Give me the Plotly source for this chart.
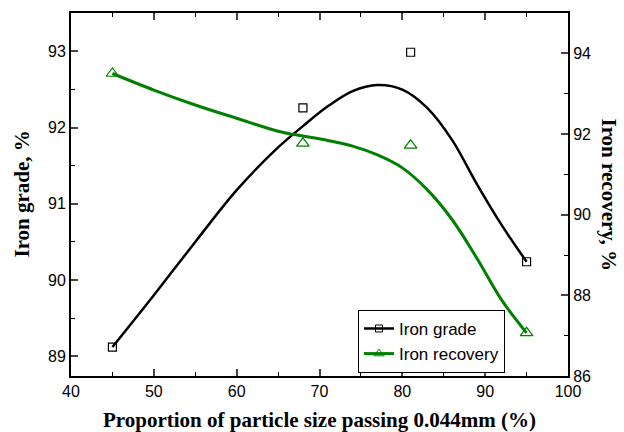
import plotly.graph_objects as go

# Measured data points
x_pts = [45, 68, 81, 95]
grade_pts = [89.12, 92.26, 92.99, 90.24]
recovery_pts = [93.50, 91.77, 91.72, 87.07]

# Fitted curves
grade_curve_x = [45, 50, 55, 60, 65, 68, 71, 74, 77, 80, 83, 86, 89, 92, 95]
grade_curve_y = [89.12, 89.80, 90.50, 91.18, 91.74, 92.02, 92.28, 92.48, 92.56, 92.50, 92.26, 91.84, 91.26, 90.72, 90.24]
recovery_curve_x = [45, 50, 55, 60, 65, 68, 71, 74, 77, 80, 83, 86, 89, 92, 95]
recovery_curve_y = [93.50, 93.09, 92.72, 92.39, 92.07, 91.95, 91.84, 91.70, 91.48, 91.16, 90.62, 89.88, 88.92, 87.88, 87.07]

series_names = ["Iron grade", "Iron recovery"]
x_title = "Proportion of particle size passing 0.044mm (%)"
y_title = "Iron grade, %"
y2_title = "Iron recovery, %"

GREEN = "#008000"
SANS = "Liberation Sans, Arial, sans-serif"
SERIF = "Liberation Serif, Times New Roman, serif"

fig = go.Figure()
fig.add_trace(go.Scatter(x=grade_curve_x, y=grade_curve_y, mode="lines",
                         line=dict(color="black", width=2.5, shape="spline", smoothing=1.0),
                         showlegend=False, hoverinfo="skip"))
fig.add_trace(go.Scatter(x=recovery_curve_x, y=recovery_curve_y, mode="lines", yaxis="y2",
                         line=dict(color=GREEN, width=3, shape="spline", smoothing=1.0),
                         showlegend=False, hoverinfo="skip"))
fig.add_trace(go.Scatter(x=x_pts, y=grade_pts, mode="markers",
                         marker=dict(symbol="square-open", size=8, color="black", line=dict(width=1.2)),
                         showlegend=False))
fig.add_trace(go.Scatter(x=x_pts, y=recovery_pts, mode="markers", yaxis="y2",
                         marker=dict(symbol="triangle-up-open", size=11, color=GREEN, line=dict(width=1.2)),
                         showlegend=False))
# legend entries
fig.add_trace(go.Scatter(x=[None], y=[None], mode="lines+markers", name=series_names[0],
                         line=dict(color="black", width=2.5),
                         marker=dict(symbol="square-open", size=7, color="black")))
fig.add_trace(go.Scatter(x=[None], y=[None], mode="lines+markers", name=series_names[1], yaxis="y2",
                         line=dict(color=GREEN, width=3),
                         marker=dict(symbol="triangle-up-open", size=9, color=GREEN)))

tickfont = dict(family=SANS, size=16, color="black")
fig.update_layout(
    width=624, height=432,
    margin=dict(l=71, r=56, t=13, b=56),
    paper_bgcolor="white", plot_bgcolor="white",
    xaxis=dict(range=[40, 100], dtick=10, tick0=40, ticks="inside", ticklen=7, tickwidth=1.5,
               showline=True, linecolor="black", linewidth=2, mirror="ticks", showgrid=False,
               zeroline=False, tickfont=tickfont,
               minor=dict(dtick=5, ticks="inside", ticklen=4, tickwidth=1.2, tickcolor="black")),
    yaxis=dict(range=[88.74, 93.505], dtick=1, tick0=89, ticks="inside", ticklen=7, tickwidth=1.5,
               showline=True, linecolor="black", linewidth=2, showgrid=False, zeroline=False,
               tickfont=tickfont,
               minor=dict(dtick=0.5, ticks="inside", ticklen=4, tickwidth=1.2, tickcolor="black")),
    yaxis2=dict(range=[86, 95], dtick=2, tick0=86, ticks="inside", ticklen=7, tickwidth=1.5,
                overlaying="y", side="right", showline=True, linecolor="black", linewidth=2,
                showgrid=False, zeroline=False, tickfont=tickfont,
                minor=dict(dtick=1, ticks="inside", ticklen=4, tickwidth=1.2, tickcolor="black")),
    legend=dict(x=0.5775, y=0.182, xanchor="left", yanchor="top",
                bgcolor="white", bordercolor="black", borderwidth=1,
                font=dict(family=SANS, size=17, color="black"),
                itemwidth=30, tracegroupgap=0),
    annotations=[
        dict(text="<b>%s</b>" % x_title, xref="paper", yref="paper", x=0.5, y=0,
             xanchor="center", yanchor="middle", yshift=-44, showarrow=False,
             font=dict(family=SERIF, size=21, color="black")),
        dict(text="<b>%s</b>" % y_title, xref="paper", yref="paper", x=0, y=0.5,
             xanchor="center", yanchor="middle", xshift=-50, textangle=-90, showarrow=False,
             font=dict(family=SERIF, size=21, color="black")),
        dict(text="<b>%s</b>" % y2_title, xref="paper", yref="paper", x=1, y=0.5,
             xanchor="center", yanchor="middle", xshift=41, textangle=90, showarrow=False,
             font=dict(family=SERIF, size=21, color="black")),
    ],
)

fig.write_html("out.html")
